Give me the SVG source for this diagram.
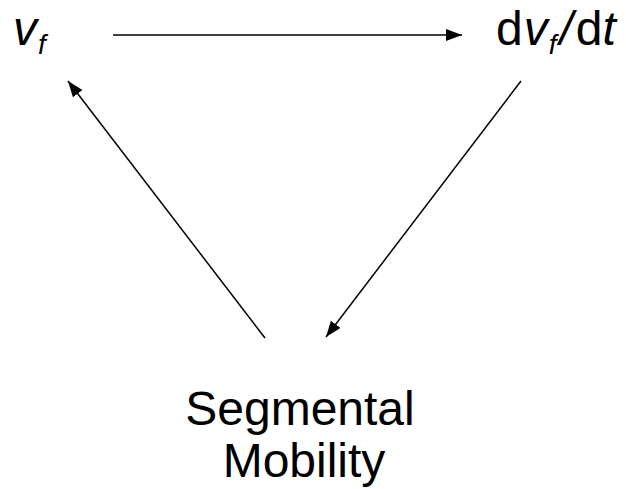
<svg xmlns="http://www.w3.org/2000/svg" width="626" height="489" viewBox="0 0 626 489">
<style>
.t{font-family:"Liberation Sans",Arial,sans-serif;font-size:48px;fill:#000}
.i{font-style:italic}
.sub{font-style:italic;font-size:28px}
.c{stroke:#000;stroke-width:1.5;fill:none}
</style>
<defs>
<marker id="ah" markerUnits="userSpaceOnUse" markerWidth="17" markerHeight="13" refX="16" refY="6" orient="auto">
<path d="M0,0 L16,6 L0,12 z" fill="#000"/>
</marker>
</defs>
<rect width="626" height="489" fill="#fff"/>
<g id="node-vf">
<text class="t" x="13" y="45"><tspan class="i">v</tspan><tspan class="sub" dy="9" dx="1">f</tspan></text>
</g>
<g id="node-dvfdt">
<text class="t" x="496" y="45">d<tspan class="i" dx="1">v</tspan><tspan class="sub" dy="9" dx="1">f</tspan><tspan class="i" dy="-9" dx="3">/</tspan><tspan dx="3">d</tspan><tspan class="i">t</tspan></text>
</g>
<g id="node-segmental">
<text class="t" x="300" y="425" text-anchor="middle">Segmental</text>
<text class="t" x="304" y="477" text-anchor="middle">Mobility</text>
</g>
<g id="connectors">
<line class="c" x1="113" y1="35" x2="462" y2="35" marker-end="url(#ah)"/>
<line class="c" x1="521" y1="81" x2="326" y2="337" marker-end="url(#ah)"/>
<line class="c" x1="265" y1="338" x2="68" y2="81" marker-end="url(#ah)"/>
</g>
</svg>
